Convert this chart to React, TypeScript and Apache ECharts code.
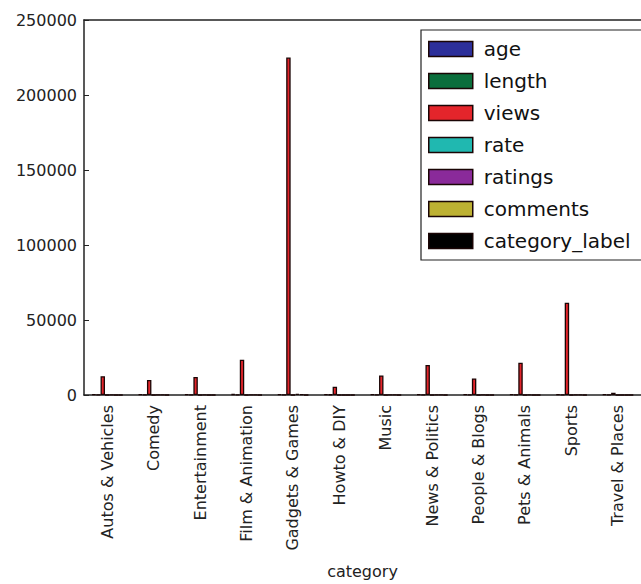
import React, { useEffect, useRef } from "react";
import * as echarts from "echarts";

// Per-category averages of the video table, grouped by category
const categories = [
  "Autos & Vehicles",
  "Comedy",
  "Entertainment",
  "Film & Animation",
  "Gadgets & Games",
  "Howto & DIY",
  "Music",
  "News & Politics",
  "People & Blogs",
  "Pets & Animals",
  "Sports",
  "Travel & Places",
];

const age = [600, 620, 590, 640, 560, 610, 600, 580, 620, 600, 570, 600];
const length = [260, 190, 250, 300, 240, 330, 240, 230, 260, 210, 230, 260];
const views = [12500, 10000, 12000, 23500, 225000, 5500, 13000, 20000, 11000, 21500, 61500, 1500];
const rate = [3.9, 3.8, 3.9, 4.0, 4.2, 4.1, 4.3, 3.7, 3.9, 4.2, 4.0, 3.8];
const ratings = [40, 45, 35, 60, 800, 30, 50, 50, 35, 40, 150, 15];
const comments = [30, 40, 30, 40, 400, 25, 40, 90, 30, 30, 120, 10];
const categoryLabel = [0, 1, 2, 3, 4, 5, 6, 7, 8, 9, 10, 11];

const yTicks = { min: 0, max: 250000, interval: 50000 };

const seriesDefs = [
  { name: "age", data: age, color: "#2d2f9a" },
  { name: "length", data: length, color: "#0b6e3c" },
  { name: "views", data: views, color: "#e4252b" },
  { name: "rate", data: rate, color: "#20b8b0" },
  { name: "ratings", data: ratings, color: "#8a2a9a" },
  { name: "comments", data: comments, color: "#bdb133" },
  { name: "category_label", data: categoryLabel, color: "#000000" },
];

const FONT = "DejaVu Sans";
const INK = "#222222";

export default function App() {
  const ref = useRef<HTMLDivElement>(null);

  useEffect(() => {
    document.body.style.margin = "0";
    document.body.style.overflow = "hidden";
    if (!ref.current) return;
    const chart = echarts.init(ref.current, null, { renderer: "svg" });

    chart.setOption({
      animation: false,
      backgroundColor: "#ffffff",
      textStyle: { fontFamily: FONT },
      grid: { left: 84, top: 20, right: -11, bottom: 189 },
      legend: {
        orient: "vertical",
        left: 421,
        top: 30,
        icon: "rect",
        itemWidth: 44,
        itemHeight: 15,
        itemGap: 12,
        padding: [9, 12, 9, 7],
        borderColor: INK,
        borderWidth: 1.2,
        backgroundColor: "#ffffff",
        itemStyle: { borderWidth: 1.5 },
        textStyle: {
          fontFamily: FONT,
          fontSize: 20,
          lineHeight: 20,
          color: "#111111",
          padding: [0, 0, 0, 6],
        },
        data: seriesDefs.map((s) => s.name),
      },
      xAxis: [
        {
          type: "category",
          data: categories,
          position: "bottom",
          name: "category",
          nameLocation: "middle",
          nameGap: 168,
          nameTextStyle: { fontFamily: FONT, fontSize: 16, color: INK },
          axisLine: { lineStyle: { color: INK, width: 1.5 } },
          axisTick: { inside: true, length: 5, alignWithLabel: true, lineStyle: { color: INK } },
          axisLabel: {
            rotate: 90,
            interval: 0,
            margin: 10,
            fontFamily: FONT,
            fontSize: 16,
            color: INK,
          },
          splitLine: { show: false },
        },
        {
          type: "category",
          data: categories,
          position: "top",
          axisLine: { lineStyle: { color: INK, width: 1.5 } },
          axisTick: { inside: true, length: 5, alignWithLabel: true, lineStyle: { color: INK } },
          axisLabel: { show: false },
          splitLine: { show: false },
        },
      ],
      yAxis: {
        type: "value",
        min: yTicks.min,
        max: yTicks.max,
        interval: yTicks.interval,
        axisLine: { show: true, lineStyle: { color: INK, width: 1.5 } },
        axisTick: { show: true, inside: true, length: 5, lineStyle: { color: INK } },
        axisLabel: {
          margin: 7,
          fontFamily: FONT,
          fontSize: 16,
          color: INK,
          formatter: (v: number) => String(v),
        },
        splitLine: { show: false },
      },
      series: seriesDefs.map((s) => ({
        name: s.name,
        type: "bar",
        xAxisIndex: 0,
        data: s.data,
        barCategoryGap: "33%",
        barGap: "0%",
        itemStyle: { color: s.color, borderColor: "#1a0505", borderWidth: 1.3 },
      })),
    });

    return () => chart.dispose();
  }, []);

  return <div ref={ref} style={{ width: 641, height: 584 }} />;
}
